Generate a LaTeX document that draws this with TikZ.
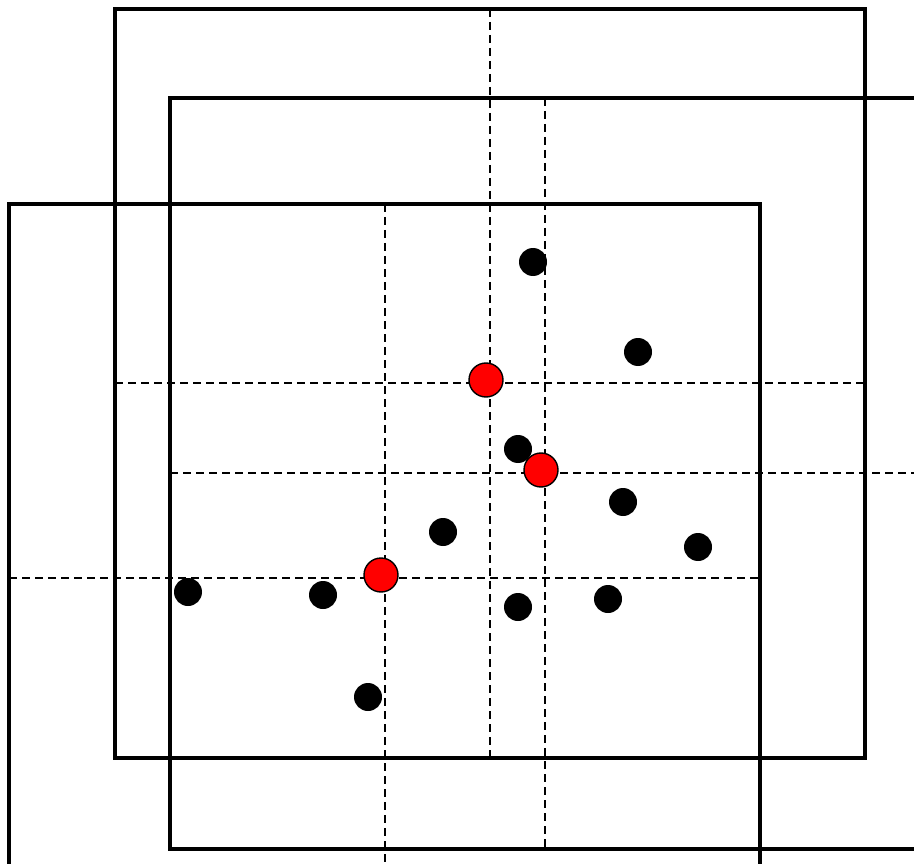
\documentclass[tikz,border=0pt]{standalone}
\usetikzlibrary{positioning}

\begin{document}
\begin{tikzpicture}[x=1pt,y=-1pt,
                    every node/.style={circle,fill=black,inner sep=0pt,minimum size=28pt},
                    win/.style={line width=4.2pt,line join=miter},
                    cut/.style={line width=2.2pt,dash pattern=on 8pt off 5pt},
                    mid/.style={fill=red,draw=black,line width=1.4pt,minimum size=34pt}]
  \useasboundingbox (0,0) rectangle (914,864);
  \begin{scope}
  \clip (0,0) rectangle (914,864);
  % windows
  \draw[win] (115,9) rectangle (865,758);
  \draw[win] (170,98) rectangle (920,849);
  \draw[win] (9,204) rectangle (760,954);
  % split lines
  \draw[cut] (490,9) -- (490,758);
  \draw[cut] (115,383) -- (865,383);
  \draw[cut] (545,98) -- (545,849);
  \draw[cut] (170,473) -- (920,473);
  \draw[cut] (385,204) -- (385,954);
  \draw[cut] (9,578) -- (760,578);
  \end{scope}
  % points
  \node (p1) at (533,262) {};
  \node (p2) at (638,352) {};
  \node (p3) at (518,449) {};
  \node (p4) at (623,502) {};
  \node (p5) at (698,547) {};
  \node (p6) at (443,532) {};
  \node (p7) at (188,592) {};
  \node (p8) at (323,595) {};
  \node (p9) at (518,607) {};
  \node (p10) at (608,599) {};
  \node (p11) at (368,697) {};
  % centres
  \node[mid] (c1) at (486,380) {};
  \node[mid] (c2) at (541,470) {};
  \node[mid] (c3) at (381,575) {};
\end{tikzpicture}
\end{document}
